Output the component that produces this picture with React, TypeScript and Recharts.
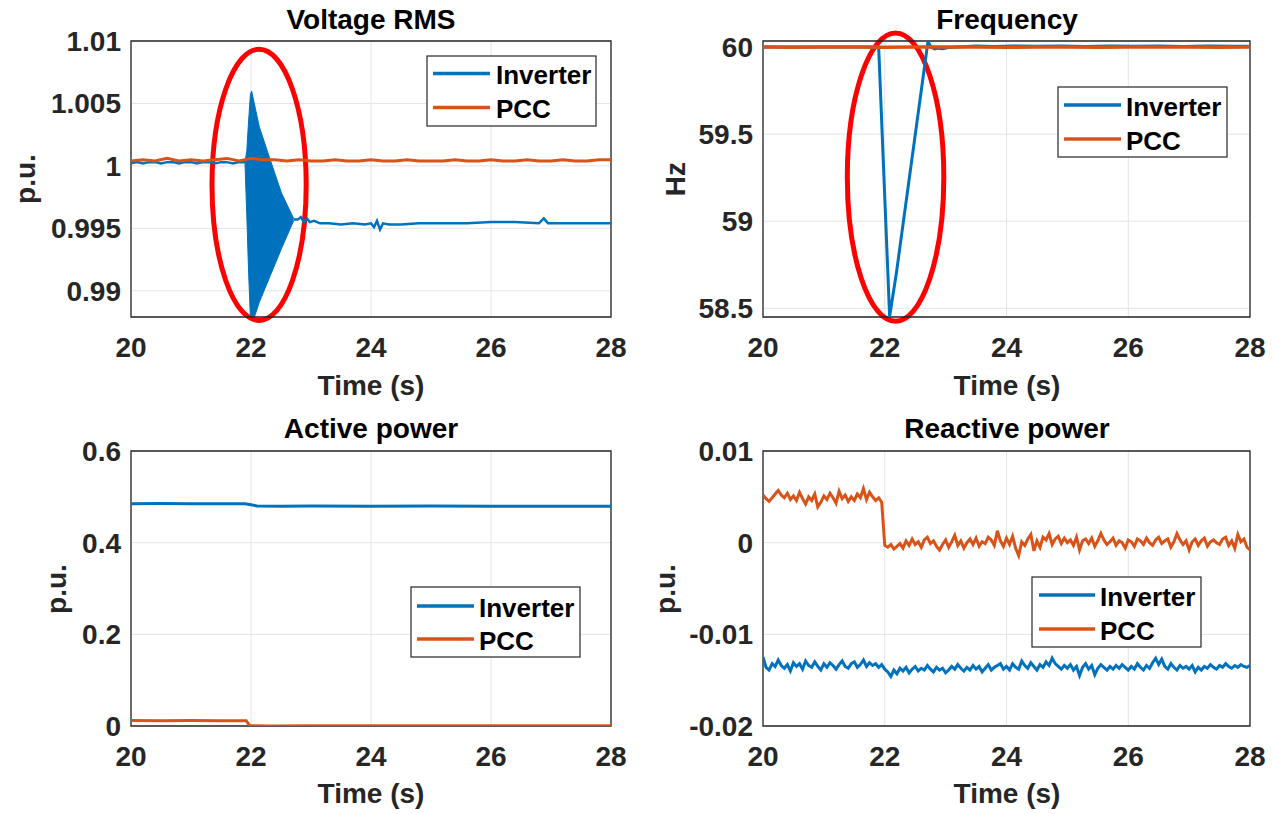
import React from 'react';
import { ComposedChart, Line, Area, XAxis, YAxis, CartesianGrid, ReferenceArea } from 'recharts';

const BLUE = '#0072BD';
const ORANGE = '#D95319';
const FONT = '"Liberation Sans", Arial, Helvetica, sans-serif';
const TXT = '#262626';

// ---------- axes ----------
const timeTicks = [20, 22, 24, 26, 28];
const timeTickLabels = ['20', '22', '24', '26', '28'];

const vTicks = [0.99, 0.995, 1, 1.005, 1.01];
const vTickLabels = ['0.99', '0.995', '1', '1.005', '1.01'];
const vDomain = [0.9879, 1.01];

const fTicks = [58.5, 59, 59.5, 60];
const fTickLabels = ['58.5', '59', '59.5', '60'];
const fDomain = [58.45, 60.035];

const pTicks = [0, 0.2, 0.4, 0.6];
const pTickLabels = ['0', '0.2', '0.4', '0.6'];
const pDomain = [0, 0.6];

const qTicks = [-0.02, -0.01, 0, 0.01];
const qTickLabels = ['-0.02', '-0.01', '0', '0.01'];
const qDomain = [-0.02, 0.01];

// ---------- Voltage RMS ----------
// PCC sampled every 0.2 s from 20 s
const vPcc = [
  1.0004, 1.0005, 1.0004, 1.0006, 1.0004, 1.0005, 1.0004, 1.0005, 1.0006, 1.0004,
  1.0006, 1.0005, 1.0005, 1.0004, 1.0005, 1.0004, 1.0004, 1.0005, 1.0004, 1.0004,
  1.0005, 1.0004, 1.0004, 1.0005, 1.0004, 1.0004, 1.0004, 1.0005, 1.0004, 1.0004,
  1.0005, 1.0004, 1.0004, 1.0005, 1.0004, 1.0004, 1.0005, 1.0004, 1.0004, 1.0005,
  1.0005,
];
// Inverter before the event, every 0.1 s from 20 s
const vInvPre = [
  1.0002, 1.0003, 1.0002, 1.0003, 1.0003, 1.0002, 1.0003, 1.0003, 1.0002, 1.0003,
  1.0003, 1.0002, 1.0003, 1.0003, 1.0002, 1.0003, 1.0003, 1.0002, 1.0003, 1.0003,
];
// Oscillation envelope of the inverter
const tBand = [21.9, 21.93, 21.96, 21.99, 22.01, 22.05, 22.14, 22.32, 22.51, 22.71];
const bandLow = [1.0002, 0.996, 0.9915, 0.9878, 0.9878, 0.9878, 0.9891, 0.9912, 0.9934, 0.9956];
const bandHigh = [1.0003, 1.0012, 1.0036, 1.0057, 1.006, 1.0051, 1.0031, 1.0005, 0.9978, 0.9958];
// Inverter after the event
const tVInvPost = [
  22.71, 22.78, 22.83, 22.88, 22.93, 22.98, 23.05, 23.15, 23.3, 23.5, 23.7, 23.9,
  24.0, 24.05, 24.1, 24.15, 24.2, 24.3, 24.5, 24.8, 25.2, 25.6, 26.0, 26.4,
  26.8, 26.88, 26.95, 27.2, 27.6, 28.0,
];
const vInvPost = [
  0.9957, 0.9957, 0.9959, 0.9955, 0.9958, 0.9955, 0.9956, 0.9954, 0.9954, 0.9953, 0.9954, 0.9953,
  0.9954, 0.9951, 0.9956, 0.9949, 0.9954, 0.9953, 0.9953, 0.9954, 0.9954, 0.9954, 0.9955, 0.9955,
  0.9954, 0.9958, 0.9954, 0.9954, 0.9954, 0.9954,
];

// ---------- Frequency ----------
const tFInv = [
  20, 20.5, 21, 21.5, 21.9, 22.08, 22.19, 22.71, 22.76, 22.82, 22.88, 22.95, 23.05, 23.2,
  23.5, 23.8, 24.1, 24.5, 24.9, 25.3, 25.7, 26.1, 26.5, 26.9, 27.3, 27.7, 28,
];
const fInv = [
  60.0, 60.001, 60.0, 60.001, 60.0, 58.453, 58.7, 60.033, 60.0, 59.99, 59.994, 59.991, 59.997, 60.0,
  60.006, 60.004, 60.007, 60.005, 60.006, 60.004, 60.007, 60.005, 60.006, 60.004, 60.006, 60.005, 60.005,
];
// PCC every 0.5 s from 20 s
const fPcc = [
  60.0, 59.999, 60.001, 60.0, 59.999, 60.001, 60.0, 60.001, 59.999, 60.0,
  60.001, 59.999, 60.0, 60.001, 60.0, 59.999, 60.0,
];

// ---------- Active power ----------
const tPInv = [20, 20.5, 21, 21.5, 21.9, 22.0, 22.1, 22.5, 23, 24, 25, 26, 27, 28];
const pInv = [0.4848, 0.4852, 0.4849, 0.4851, 0.4847, 0.4826, 0.4802, 0.4797, 0.4799, 0.4796, 0.4798, 0.4796, 0.4797, 0.4795];
const tPPcc = [20, 20.5, 21, 21.5, 21.92, 21.98, 22.3, 23, 24, 25, 26, 27, 28];
const pPcc = [0.012, 0.0117, 0.0118, 0.0116, 0.0117, 0.0004, 0.0002, 0.0004, 0.0003, 0.0004, 0.0003, 0.0004, 0.0003];

// ---------- Reactive power (every 0.05 s from 20 s) ----------
const qPcc = [
  0.0052, 0.0048, 0.0045, 0.0049, 0.0053, 0.0057, 0.0052, 0.0049, 0.0054, 0.0047, 0.0051, 0.0046, 0.0055, 0.0048, 0.0042, 0.005, 0.0046, 0.0053, 0.0039, 0.0044,
  0.0051, 0.0047, 0.0054, 0.0049, 0.0043, 0.0056, 0.0048, 0.0052, 0.0045, 0.005, 0.0046, 0.0053, 0.0049, 0.0059, 0.0047, 0.0055, 0.005, 0.0046, 0.0049, 0.0044,
  -0.0003, -0.0005, -0.0002, -0.0007, -0.0004, -0.0001, -0.0006, 0.0002, -0.0003, 0.0004, -0.0002, 0.0001, -0.0005, 0.0003, 0.0006, -0.0001, 0.0002, -0.0004, -0.0008, -0.0002,
  0.0003, -0.0005, 0.0001, 0.0008, -0.0003, 0.0002, -0.0006, 0.0, 0.0004, -0.0002, 0.0005, -0.0004, 0.0001, -0.0001, 0.0006, 0.0003, -0.0003, 0.0013, 0.0002, -0.0004,
  0.0005, -0.0002, 0.0007, -0.0006, -0.0014, 0.0001, -0.0003, 0.0004, 0.0009, -0.0009, 0.0002, -0.0005, 0.0006, 0.0003, 0.001, -0.0002, 0.0004, 0.0007, -0.0001, 0.0005,
  0.0, 0.0003, -0.0003, 0.0006, -0.0008, 0.0002, 0.0004, -0.0001, 0.0005, -0.0004, 0.0002, 0.001, 0.0003, -0.0002, 0.0001, 0.0005, -0.0003, 0.0002, 0.0, -0.0006,
  0.0003, 0.0001, -0.0004, 0.0004, 0.0002, -0.0002, 0.0005, 0.0, -0.0003, 0.0003, 0.0006, -0.0001, 0.0002, 0.0004, -0.0005, 0.0001, 0.001, 0.0003, -0.0002, 0.0002,
  -0.0008, 0.0001, 0.0004, -0.0003, 0.0002, 0.0005, -0.0004, 0.0001, 0.0003, 0.0, -0.0002, 0.0004, 0.0006, -0.0003, 0.0002, -0.0006, 0.0009, 0.0001, 0.0004, -0.0005,
  -0.0008,
];
const qInv = [
  -0.0125, -0.0136, -0.0139, -0.0132, -0.0135, -0.0128, -0.0134, -0.0137, -0.0133, -0.014, -0.0131, -0.0135, -0.0132, -0.0138, -0.0129, -0.0134, -0.0136, -0.013, -0.0135, -0.0139,
  -0.0132, -0.0136, -0.0131, -0.0134, -0.0138, -0.0133, -0.0129, -0.0135, -0.0137, -0.0132, -0.013, -0.0136, -0.0133, -0.0128, -0.0135, -0.0131, -0.0134, -0.0132, -0.0136, -0.0133,
  -0.0138, -0.0141, -0.0146, -0.0139, -0.0143, -0.0137, -0.014, -0.0136, -0.0142, -0.0138, -0.0135, -0.014, -0.0137, -0.0139, -0.0134, -0.0138, -0.0141, -0.0136, -0.0139, -0.0137,
  -0.0142, -0.0139, -0.0135, -0.0138, -0.0133, -0.0137, -0.014, -0.0136, -0.0139, -0.0134, -0.0138, -0.0135, -0.0141, -0.0137, -0.0133, -0.0139, -0.0136, -0.0134, -0.0132, -0.0138,
  -0.0135, -0.0139, -0.0132, -0.0136, -0.0138, -0.0129, -0.0134, -0.0137, -0.0131, -0.0135, -0.0139, -0.0133, -0.0136, -0.013, -0.0134, -0.0126, -0.0132, -0.0135, -0.0138, -0.0134,
  -0.0137, -0.0133, -0.0139, -0.0135, -0.0145, -0.0136, -0.0132, -0.0138, -0.0134, -0.0144, -0.0137, -0.0133, -0.0136, -0.0139, -0.0135, -0.0138, -0.0134, -0.0137, -0.0133, -0.0136,
  -0.0139, -0.0135, -0.0138, -0.0132, -0.0136, -0.0139, -0.0134, -0.0137, -0.0131, -0.0126, -0.0133, -0.0127, -0.0135, -0.0138, -0.0132, -0.0136, -0.0139, -0.0134, -0.0137, -0.0135,
  -0.0138, -0.0134, -0.0141, -0.0136, -0.0139, -0.0135, -0.0137, -0.0133, -0.0136, -0.0138, -0.0134, -0.0136, -0.0132, -0.0135, -0.0137, -0.0134, -0.0136, -0.0133, -0.0135, -0.0136,
  -0.0134,
];

// ---------- highlight ellipses (data units) ----------
const ellipseV = { x1: 21.35, x2: 22.92, y1: 0.98762, y2: 1.00934 };
const ellipseF = { x1: 21.385, x2: 22.97, y1: 58.426, y2: 60.081 };

// ---------- build rows ----------
const stepTimes = (n: number, step: number) =>
  Array.from({ length: n }, (_, i) => Math.round((20 + i * step) * 1000) / 1000);
const rows = (ts: number[], vs: number[]) => ts.map((t, i) => ({ t, v: vs[i] }));

const vPccRows = rows(stepTimes(vPcc.length, 0.2), vPcc);
const vInvPreRows = rows(stepTimes(vInvPre.length, 0.1), vInvPre);
const vInvPostRows = rows(tVInvPost, vInvPost);
const bandRows = tBand.map((t, i) => ({ t, band: [bandLow[i], bandHigh[i]] }));
const fInvRows = rows(tFInv, fInv);
const fPccRows = rows(stepTimes(fPcc.length, 0.5), fPcc);
const pInvRows = rows(tPInv, pInv);
const pPccRows = rows(tPPcc, pPcc);
const qPccRows = rows(stepTimes(qPcc.length, 0.05), qPcc);
const qInvRows = rows(stepTimes(qInv.length, 0.05), qInv);

const tickStyle = { fill: TXT, fontSize: 28, fontWeight: 'bold', fontFamily: FONT };

const EllipseShape = (p: any) => (
  <ellipse
    cx={p.x + p.width / 2}
    cy={p.y + p.height / 2}
    rx={Math.abs(p.width / 2)}
    ry={Math.abs(p.height / 2)}
    fill="none"
    stroke="#FF0000"
    strokeWidth={5}
  />
);

type PanelProps = {
  left: number;
  top: number;
  yWidth: number;
  mTop: number;
  mRight: number;
  mBottom: number;
  domain: number[];
  ticks: number[];
  tickLabels: string[];
  children: React.ReactNode;
};

function Panel({ left, top, yWidth, mTop, mRight, mBottom, domain, ticks, tickLabels, children }: PanelProps) {
  return (
    <div style={{ position: 'absolute', left, top }}>
      <ComposedChart width={637} height={407} margin={{ top: mTop, right: mRight, bottom: mBottom, left: 0 }}>
        <CartesianGrid stroke="#e4e4e4" strokeWidth={1} />
        <XAxis
          type="number"
          dataKey="t"
          domain={[20, 28]}
          ticks={timeTicks}
          interval={0}
          allowDataOverflow
          tickLine={false}
          axisLine={false}
          tickSize={0}
          tickMargin={20}
          height={60}
          tick={tickStyle}
          tickFormatter={(v: number) => timeTickLabels[timeTicks.indexOf(v)] ?? String(v)}
        />
        <YAxis
          type="number"
          domain={domain}
          ticks={ticks}
          interval={0}
          allowDataOverflow
          width={yWidth}
          tickLine={false}
          axisLine={false}
          tickSize={0}
          tickMargin={10}
          tick={tickStyle}
          tickFormatter={(v: number) => tickLabels[ticks.indexOf(v)] ?? String(v)}
        />
        {children}
        <ReferenceArea
          x1={20}
          x2={28}
          y1={domain[0]}
          y2={domain[1]}
          fill="none"
          fillOpacity={0}
          stroke={TXT}
          strokeWidth={1.3}
          ifOverflow="visible"
        />
      </ComposedChart>
    </div>
  );
}

type LegendProps = { x: number; y: number; w: number; h: number; lx1: number; lx2: number; ly1: number; ly2: number; tx: number };
function LegendBox({ x, y, w, h, lx1, lx2, ly1, ly2, tx }: LegendProps) {
  const ts = { fontFamily: FONT, fontWeight: 'bold' as const, fontSize: 26, fill: '#000' };
  return (
    <g>
      <rect x={x} y={y} width={w} height={h} fill="#fff" stroke={TXT} strokeWidth={1.2} />
      <line x1={lx1} x2={lx2} y1={ly1} y2={ly1} stroke={BLUE} strokeWidth={3.5} />
      <line x1={lx1} x2={lx2} y1={ly2} y2={ly2} stroke={ORANGE} strokeWidth={3.5} />
      <text x={tx} y={ly1 + 10.5} {...ts}>Inverter</text>
      <text x={tx} y={ly2 + 10.5} {...ts}>PCC</text>
    </g>
  );
}

export default function App() {
  const titleStyle = { fontFamily: FONT, fontWeight: 'bold' as const, fontSize: 28, fill: '#000', textAnchor: 'middle' as const };
  const labelStyle = { fontFamily: FONT, fontWeight: 'bold' as const, fontSize: 28, fill: TXT, textAnchor: 'middle' as const };
  return (
    <div style={{ position: 'absolute', left: 0, top: 0, width: 1274, height: 814, background: '#fff', overflow: 'hidden' }}>
      {/* Voltage RMS */}
      <Panel left={0} top={0} yWidth={131} mTop={41} mRight={26} mBottom={30} domain={vDomain} ticks={vTicks} tickLabels={vTickLabels}>
        <Area data={bandRows} dataKey="band" stroke={BLUE} strokeWidth={1} fill={BLUE} fillOpacity={1} isAnimationActive={false} />
        <Line data={vInvPreRows} dataKey="v" stroke={BLUE} strokeWidth={2.5} dot={false} isAnimationActive={false} />
        <Line data={vInvPostRows} dataKey="v" stroke={BLUE} strokeWidth={2.5} dot={false} isAnimationActive={false} />
        <Line data={vPccRows} dataKey="v" stroke={ORANGE} strokeWidth={3} dot={false} isAnimationActive={false} />
        <ReferenceArea {...ellipseV} ifOverflow="visible" shape={EllipseShape} />
      </Panel>

      {/* Frequency */}
      <Panel left={637} top={0} yWidth={126} mTop={41} mRight={24} mBottom={30} domain={fDomain} ticks={fTicks} tickLabels={fTickLabels}>
        <Line data={fInvRows} dataKey="v" stroke={BLUE} strokeWidth={3} dot={false} isAnimationActive={false} />
        <Line data={fPccRows} dataKey="v" stroke={ORANGE} strokeWidth={3.5} dot={false} isAnimationActive={false} />
        <ReferenceArea {...ellipseF} ifOverflow="visible" shape={EllipseShape} />
      </Panel>

      {/* Active power */}
      <Panel left={0} top={407} yWidth={131} mTop={44} mRight={26} mBottom={28} domain={pDomain} ticks={pTicks} tickLabels={pTickLabels}>
        <Line data={pInvRows} dataKey="v" stroke={BLUE} strokeWidth={3} dot={false} isAnimationActive={false} />
        <Line data={pPccRows} dataKey="v" stroke={ORANGE} strokeWidth={3} dot={false} isAnimationActive={false} />
      </Panel>

      {/* Reactive power */}
      <Panel left={637} top={407} yWidth={126} mTop={44} mRight={24} mBottom={28} domain={qDomain} ticks={qTicks} tickLabels={qTickLabels}>
        <Line data={qInvRows} dataKey="v" stroke={BLUE} strokeWidth={3} dot={false} isAnimationActive={false} />
        <Line data={qPccRows} dataKey="v" stroke={ORANGE} strokeWidth={3} dot={false} isAnimationActive={false} />
      </Panel>

      <svg width={1274} height={814} style={{ position: 'absolute', left: 0, top: 0, pointerEvents: 'none' }}>
        {/* titles */}
        <text x={371} y={28.5} {...titleStyle}>Voltage RMS</text>
        <text x={1007} y={28.5} {...titleStyle}>Frequency</text>
        <text x={371} y={437.5} {...titleStyle}>Active power</text>
        <text x={1007} y={437.5} {...titleStyle}>Reactive power</text>
        {/* x labels */}
        <text x={371} y={395} {...labelStyle}>Time (s)</text>
        <text x={1007} y={395} {...labelStyle}>Time (s)</text>
        <text x={371} y={803} {...labelStyle}>Time (s)</text>
        <text x={1007} y={803} {...labelStyle}>Time (s)</text>
        {/* y labels */}
        <text x={35} y={179} transform="rotate(-90 35 179)" {...labelStyle}>p.u.</text>
        <text x={685} y={179} transform="rotate(-90 685 179)" {...labelStyle}>Hz</text>
        <text x={66} y={589} transform="rotate(-90 66 589)" {...labelStyle}>p.u.</text>
        <text x={675} y={589} transform="rotate(-90 675 589)" {...labelStyle}>p.u.</text>
        {/* legends */}
        <LegendBox x={427} y={56} w={169} h={70} lx1={433} lx2={490} ly1={73.5} ly2={107.5} tx={496} />
        <LegendBox x={1058} y={87} w={169} h={70} lx1={1064} lx2={1121} ly1={105} ly2={139} tx={1126} />
        <LegendBox x={411} y={587} w={169} h={70} lx1={417} lx2={474} ly1={606} ly2={639} tx={479} />
        <LegendBox x={1032} y={577} w={169} h={70} lx1={1039} lx2={1095} ly1={595} ly2={629} tx={1100} />
      </svg>
    </div>
  );
}
